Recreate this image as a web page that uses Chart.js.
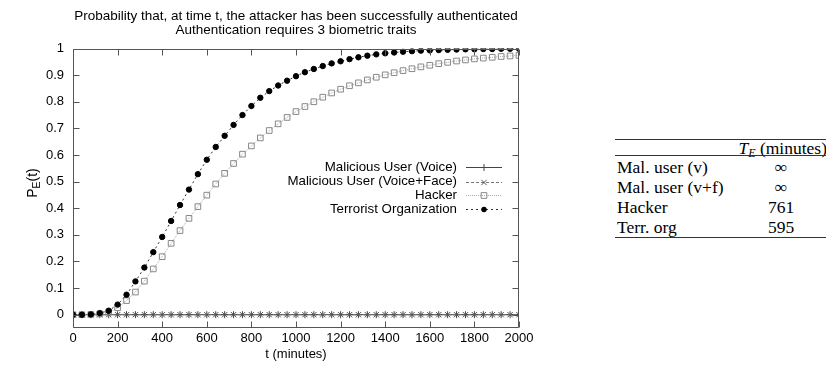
<!DOCTYPE html>
<html>
<head>
<meta charset="utf-8">
<script src="https://cdn.jsdelivr.net/npm/chart.js@4.4.1/dist/chart.umd.min.js"></script>
<style>
  body { margin: 0; background: #fff; width: 826px; height: 370px; overflow: hidden; position: relative; }
  #wrap { position: absolute; left: 0; top: 0; width: 592px; height: 370px; }
  #tbl { position: absolute; left: 615px; top: 139px; width: 211px; height: 100px;
         font-family: "Liberation Serif", "DejaVu Serif", serif; font-size: 17.5px; color: #000; }
  #tbl .rule { position: absolute; left: 0; width: 211px; background: #333; }
  #tbl .cell { position: absolute; line-height: 20px; white-space: nowrap; }
  #tbl .name { left: 2px; }
  #tbl .val { width: 90px; text-align: center; }
  #tbl .hdr { right: -1px; }
  #tbl sub { font-size: 12px; vertical-align: -3px; font-style: italic; }
</style>
</head>
<body>
<div id="wrap"><canvas id="myChart" width="592" height="370"></canvas></div>
<div id="tbl"></div>
<script>
// time axis, minutes (every 40 min)
const times = [0, 40, 80, 120, 160, 200, 240, 280, 320, 360,
  400, 440, 480, 520, 560, 600, 640, 680, 720, 760,
  800, 840, 880, 920, 960, 1000, 1040, 1080, 1120, 1160,
  1200, 1240, 1280, 1320, 1360, 1400, 1440, 1480, 1520, 1560,
  1600, 1640, 1680, 1720, 1760, 1800, 1840, 1880, 1920, 1960, 2000];

const malVoice = [0, 0, 0, 0, 0, 0, 0, 0, 0, 0,
  0, 0, 0, 0, 0, 0, 0, 0, 0, 0,
  0, 0, 0, 0, 0, 0, 0, 0, 0, 0,
  0, 0, 0, 0, 0, 0, 0, 0, 0, 0,
  0, 0, 0, 0, 0, 0, 0, 0, 0, 0, 0];

const malVoiceFace = [0, 0, 0, 0, 0, 0, 0, 0, 0, 0,
  0, 0, 0, 0, 0, 0, 0, 0, 0, 0,
  0, 0, 0, 0, 0, 0, 0, 0, 0, 0,
  0, 0, 0, 0, 0, 0, 0, 0, 0, 0,
  0, 0, 0, 0, 0, 0, 0, 0, 0, 0, 0];

const hacker = [0, 0, 0.001, 0.003, 0.01, 0.026, 0.053, 0.085, 0.126, 0.172,
  0.218, 0.268, 0.316, 0.362, 0.406, 0.449, 0.491, 0.531, 0.568, 0.603,
  0.634, 0.664, 0.692, 0.717, 0.741, 0.763, 0.782, 0.8, 0.817, 0.833,
  0.847, 0.86, 0.871, 0.882, 0.892, 0.901, 0.909, 0.917, 0.924, 0.931,
  0.937, 0.943, 0.948, 0.953, 0.957, 0.961, 0.964, 0.967, 0.97, 0.972, 0.974];

const terrorist = [0, 0, 0.001, 0.006, 0.015, 0.038, 0.075, 0.125, 0.177, 0.235,
  0.292, 0.352, 0.412, 0.47, 0.528, 0.582, 0.63, 0.672, 0.713, 0.75,
  0.784, 0.815, 0.84, 0.861, 0.879, 0.896, 0.911, 0.923, 0.934, 0.944,
  0.952, 0.96, 0.967, 0.973, 0.978, 0.982, 0.985, 0.988, 0.99, 0.992,
  0.993, 0.994, 0.995, 0.996, 0.997, 0.997, 0.998, 0.998, 0.999, 0.999, 0.999];

const xTicks = [0, 200, 400, 600, 800, 1000, 1200, 1400, 1600, 1800, 2000];
const yTicks = [0, 0.1, 0.2, 0.3, 0.4, 0.5, 0.6, 0.7, 0.8, 0.9, 1];

const seriesNames = ['Malicious User (Voice)', 'Malicious User (Voice+Face)', 'Hacker', 'Terrorist Organization'];
const titleLines = ['Probability that, at time t, the attacker has been successfully authenticated',
  'Authentication requires 3 biometric traits'];

const tableNames = ['Mal. user (v)', 'Mal. user (v+f)', 'Hacker', 'Terr. org'];
const tableValues = ['\u221E', '\u221E', '761', '595'];

const FONT = '"Liberation Sans", Arial, sans-serif';

function pts(arr) {
  return arr.map((v, i) => ({ x: times[i], y: v }));
}

const styles = [
  { color: '#444', dash: [], point: 'cross', radius: 3.5, fill: 'transparent' },
  { color: '#555', dash: [3, 2], point: 'crossRot', radius: 3.8, fill: 'transparent', line: '#777' },
  { color: '#888', dash: [1, 1], point: 'rect', radius: 4, fill: 'transparent', line: '#aaa' },
  { color: '#000', dash: [2, 3], point: 'circle', radius: 2.7, fill: '#000', line: '#333' }
];
const seriesData = [malVoice, malVoiceFace, hacker, terrorist];

const datasets = seriesData.map((d, i) => ({
  label: seriesNames[i],
  data: pts(d),
  borderColor: styles[i].line || styles[i].color,
  borderWidth: 1,
  borderDash: styles[i].dash,
  pointStyle: styles[i].point,
  pointRadius: styles[i].radius,
  pointBorderColor: styles[i].color,
  pointBackgroundColor: styles[i].fill,
  pointBorderWidth: 1,
  order: 3 - i,
  tension: 0
}));

function marker(ctx, s, x, y) {
  ctx.save();
  ctx.strokeStyle = s.color;
  ctx.fillStyle = s.fill;
  ctx.lineWidth = 1;
  ctx.setLineDash([]);
  const r = s.radius;
  ctx.beginPath();
  if (s.point === 'cross') {
    ctx.moveTo(x - r, y); ctx.lineTo(x + r, y);
    ctx.moveTo(x, y - r); ctx.lineTo(x, y + r);
    ctx.stroke();
  } else if (s.point === 'crossRot') {
    const d = r * Math.SQRT1_2;
    ctx.moveTo(x - d, y - d); ctx.lineTo(x + d, y + d);
    ctx.moveTo(x - d, y + d); ctx.lineTo(x + d, y - d);
    ctx.stroke();
  } else if (s.point === 'rect') {
    const d = r * Math.SQRT1_2;
    ctx.rect(x - d, y - d, 2 * d, 2 * d);
    ctx.stroke();
  } else {
    ctx.arc(x, y, r, 0, Math.PI * 2);
    ctx.fill();
  }
  ctx.restore();
}

// gnuplot-like frame with inward ticks, title, inner legend and y label
const gnuplotLook = {
  id: 'gnuplotLook',
  afterDatasetsDraw(chart) {
    const { ctx, chartArea: a, scales } = chart;
    const L = Math.round(a.left) + 0.5, R = Math.round(a.right) - 0.5;
    const T = Math.round(a.top) + 0.5, B = Math.round(a.bottom) - 0.5;
    ctx.save();
    ctx.strokeStyle = '#555';
    ctx.lineWidth = 1;
    ctx.beginPath();
    ctx.rect(L, T, R - L, B - T);
    xTicks.forEach(v => {
      const px = Math.round(scales.x.getPixelForValue(v)) + 0.5;
      ctx.moveTo(px, B); ctx.lineTo(px, B - 6);
      ctx.moveTo(px, T); ctx.lineTo(px, T + 6);
    });
    yTicks.forEach(v => {
      const py = Math.round(scales.y.getPixelForValue(v)) + 0.5;
      ctx.moveTo(L, py); ctx.lineTo(L + 6, py);
      ctx.moveTo(R, py); ctx.lineTo(R - 6, py);
    });
    ctx.stroke();

    // title, centred over the plot area
    ctx.fillStyle = '#000';
    ctx.font = '13.5px ' + FONT;
    ctx.textAlign = 'center';
    ctx.textBaseline = 'middle';
    const cx = (a.left + a.right) / 2;
    ctx.fillText(titleLines[0], cx, 16.5);
    ctx.fillText(titleLines[1], cx, 30);

    // legend
    const rowsY = [167, 181.5, 195, 209];
    ctx.font = '13.3px ' + FONT;
    ctx.textAlign = 'right';
    seriesNames.forEach((name, i) => {
      const y = rowsY[i];
      ctx.fillText(name, 457, y);
      ctx.strokeStyle = styles[i].line || styles[i].color;
      ctx.setLineDash(styles[i].dash);
      ctx.beginPath();
      ctx.moveTo(466, Math.round(y) + 0.5);
      ctx.lineTo(502, Math.round(y) + 0.5);
      ctx.stroke();
      marker(ctx, styles[i], 484, Math.round(y) + 0.5);
    });

    // y axis label P_E(t)
    ctx.setLineDash([]);
    ctx.translate(32, 183);
    ctx.rotate(-Math.PI / 2);
    ctx.textAlign = 'left';
    ctx.textBaseline = 'alphabetic';
    ctx.font = '14px ' + FONT;
    const wP = ctx.measureText('P').width;
    ctx.font = '10.5px ' + FONT;
    const wE = ctx.measureText('E').width;
    ctx.font = '14px ' + FONT;
    const wT = ctx.measureText('(t)').width;
    const x0 = -(wP + wE + wT) / 2;
    ctx.fillText('P', x0, 5);
    ctx.font = '10.5px ' + FONT;
    ctx.fillText('E', x0 + wP, 8);
    ctx.font = '14px ' + FONT;
    ctx.fillText('(t)', x0 + wP + wE, 5);
    ctx.restore();
  }
};

new Chart(document.getElementById('myChart').getContext('2d'), {
  type: 'line',
  data: { datasets: datasets },
  plugins: [gnuplotLook],
  options: {
    responsive: false,
    animation: false,
    layout: { padding: { left: 0, right: 73, top: 48.5, bottom: 0 } },
    plugins: {
      legend: { display: false },
      tooltip: { enabled: false },
      title: { display: false }
    },
    scales: {
      x: {
        type: 'linear',
        min: 0,
        max: 2000,
        grid: { display: false, drawTicks: false },
        border: { display: false },
        afterBuildTicks: s => { s.ticks = xTicks.map(v => ({ value: v })); },
        afterFit: s => { s.height = 42; },
        ticks: { color: '#000', font: { family: FONT, size: 13 }, padding: 3, maxRotation: 0,
          callback: v => String(v) },
        title: { display: true, text: 't (minutes)', color: '#000',
          font: { family: FONT, size: 13 }, padding: { top: 0, bottom: 8 } }
      },
      y: {
        type: 'linear',
        min: -0.05,
        max: 1,
        grid: { display: false, drawTicks: false },
        border: { display: false },
        afterBuildTicks: s => { s.ticks = yTicks.map(v => ({ value: v })); },
        afterFit: s => { s.width = 73; },
        ticks: { color: '#000', font: { family: FONT, size: 13 }, padding: 9,
          callback: v => String(v) }
      }
    }
  }
});

// the T_E table
const tbl = document.getElementById('tbl');
function add(html, cls, top) {
  const d = document.createElement('div');
  d.className = cls;
  d.style.top = top + 'px';
  d.innerHTML = html;
  tbl.appendChild(d);
  return d;
}
add('', 'rule', 0).style.height = '1.3px';
add('<i>T</i><sub>E</sub> (minutes)', 'cell hdr', -1);
add('', 'rule', 16).style.height = '0.8px';
tableNames.forEach((n, i) => {
  add(n, 'cell name', 18 + i * 20);
  add(tableValues[i], 'cell val', 18 + i * 20).style.left = '121px';
});
add('', 'rule', 98).style.height = '1.3px';
</script>
</body>
</html>
